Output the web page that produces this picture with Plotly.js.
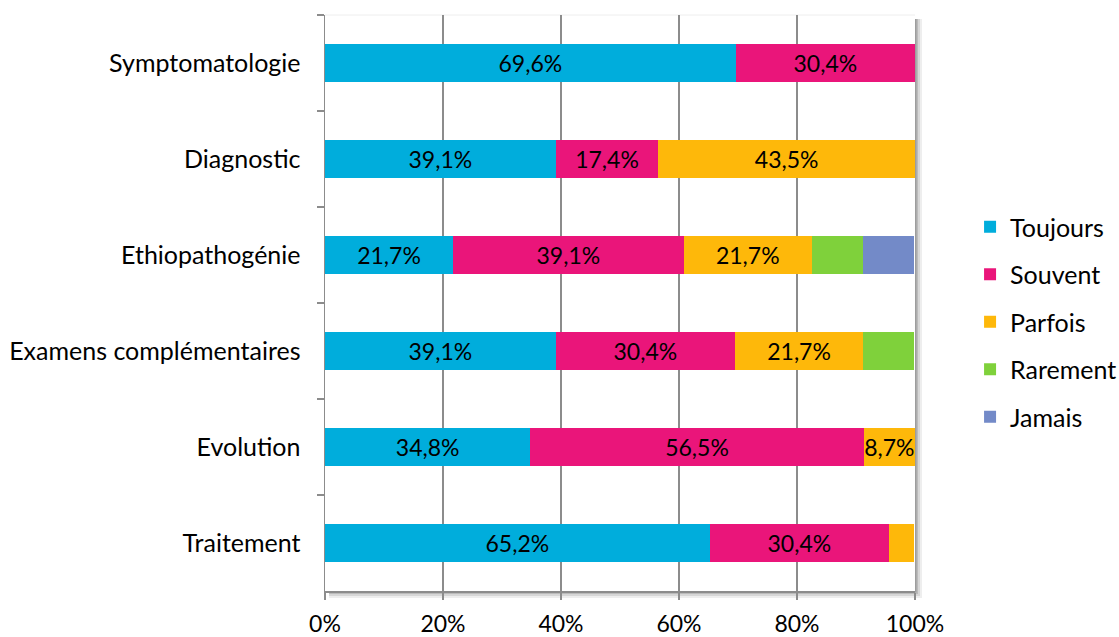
<!DOCTYPE html>
<html>
<head>
<meta charset="utf-8">
<script src="https://cdn.plot.ly/plotly-3.0.1.min.js"></script>
<style>html,body{margin:0;padding:0;background:#fff;}#chart{width:1119px;height:637px;}</style>
</head>
<body>
<div id="chart"></div>
<script>
const categories = ["Symptomatologie", "Diagnostic", "Ethiopathogénie", "Examens complémentaires", "Evolution", "Traitement"];
const seriesNames = ["Toujours", "Souvent", "Parfois", "Rarement", "Jamais"];
const toujours = [69.6, 39.1, 21.7, 39.1, 34.8, 65.2];
const souvent  = [30.4, 17.4, 39.1, 30.4, 56.5, 30.4];
const parfois  = [0, 43.5, 21.7, 21.7, 8.7, 4.3];
const rarement = [0, 0, 8.7, 8.7, 0, 0];
const jamais   = [0, 0, 8.7, 0, 0, 0];
// which segments carry a visible data label in the original
const showToujours = [true, true, true, true, true, true];
const showSouvent  = [true, true, true, true, true, true];
const showParfois  = [false, true, true, true, true, false];
const showRarement = [false, false, false, false, false, false];
const showJamais   = [false, false, false, false, false, false];
const xTickVals = [0, 20, 40, 60, 80, 100];
const xTickText = ["0%", "20%", "40%", "60%", "80%", "100%"];

const colors = ["#00ADDC", "#EA157A", "#FEB80A", "#7FD13B", "#738AC8"];
const seriesValues = [toujours, souvent, parfois, rarement, jamais];
const seriesShow = [showToujours, showSouvent, showParfois, showRarement, showJamais];

const FONT = "Lato, 'Open Sans', sans-serif";
const fmt = v => v.toFixed(1).replace('.', ',') + '%';

const traces = seriesNames.map((name, i) => ({
  type: 'bar',
  orientation: 'h',
  name: name,
  y: categories,
  x: seriesValues[i],
  text: seriesValues[i].map((v, j) => seriesShow[i][j] ? fmt(v) : ''),
  textposition: 'inside',
  insidetextanchor: 'middle',
  textangle: 0,
  constraintext: 'none',
  textfont: {family: FONT, size: 23, color: '#000'},
  marker: {color: colors[i], line: {width: 0}},
  legendgroup: 'g' + i,
  hoverinfo: 'none',
  cliponaxis: false
}));

const W = 1119, H = 637;
const mL = 325, mR = 204, mT = 15, mB = 46;
const pw = W - mL - mR, ph = H - mT - mB;
// Shadow of the plot area (right and bottom), then white plot area on top
const shadowSteps = [[7, 0.10], [5, 0.15], [3, 0.22], [1.5, 0.3]];
const shadowShapes = shadowSteps.map(([d, op]) => ({
  type: 'rect', layer: 'below', xref: 'paper', yref: 'paper',
  x0: 4 / pw, x1: 1 + d / pw, y0: -d / ph, y1: 1 - 4 / ph,
  line: {width: 0}, fillcolor: 'rgba(90,90,90,' + op + ')'
}));
shadowShapes.push({type: 'rect', layer: 'below', xref: 'paper', yref: 'paper',
  x0: 0, x1: 1, y0: 0, y1: 1, line: {width: 0}, fillcolor: '#ffffff'});
shadowShapes.push({type: 'line', layer: 'below', xref: 'paper', yref: 'paper',
  x0: 0, x1: 1, y0: 1, y1: 1, line: {width: 1, color: '#eeeeee'}});

const layout = {
  width: W, height: H,
  margin: {l: mL, r: mR, t: mT, b: mB, pad: 0, autoexpand: false},
  paper_bgcolor: '#ffffff',
  plot_bgcolor: 'rgba(0,0,0,0)',
  barmode: 'stack',
  bargap: 0.6,
  font: {family: FONT, size: 25, color: '#000'},
  shapes: shadowShapes,
  xaxis: {
    range: [0, 100],
    tickvals: xTickVals,
    ticktext: xTickText,
    showgrid: true,
    gridcolor: '#8C8C8C',
    gridwidth: 1.5,
    showline: true,
    linecolor: '#8C8C8C',
    linewidth: 1.5,
    ticks: 'outside',
    ticklen: 7,
    tickwidth: 1.5,
    tickcolor: '#8C8C8C',
    zeroline: false,
    ticklabelstandoff: 5,
    tickfont: {family: FONT, size: 23, color: '#000'},
    fixedrange: true
  },
  yaxis: {
    type: 'category',
    categoryorder: 'array',
    categoryarray: categories,
    autorange: 'reversed',
    showline: true,
    linecolor: '#8C8C8C',
    linewidth: 1.5,
    ticks: 'outside',
    tickson: 'boundaries',
    ticklen: 7,
    tickwidth: 1.5,
    tickcolor: '#8C8C8C',
    showgrid: false,
    ticklabelstandoff: 18,
    tickfont: {family: FONT, size: 25, color: '#000'},
    fixedrange: true
  },
  showlegend: true,
  legend: {
    xref: 'container',
    x: 0.8669, xanchor: 'left',
    y: 0.467, yanchor: 'middle',
    traceorder: 'grouped',
    tracegroupgap: 12,
    font: {family: FONT, size: 25, color: '#000'},
    itemwidth: 30,
    bgcolor: 'rgba(0,0,0,0)'
  }
};

Plotly.newPlot('chart', traces, layout, {displayModeBar: false, staticPlot: true});
</script>
</body>
</html>
